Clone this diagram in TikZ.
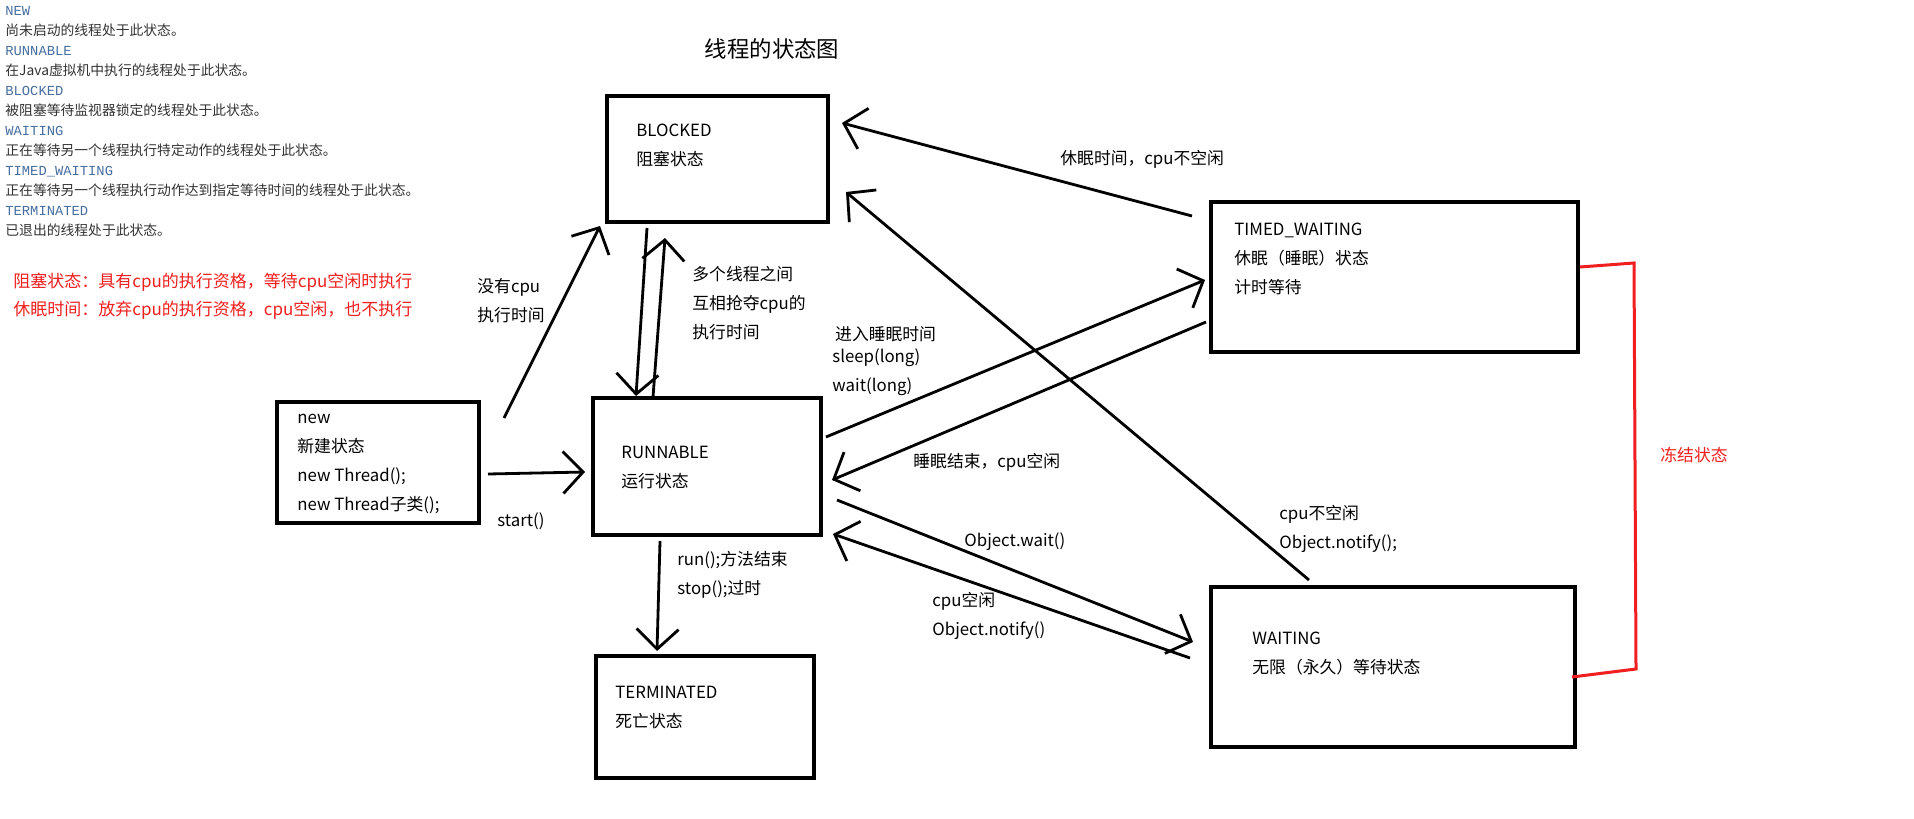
\documentclass[tikz,border=0pt]{standalone}
\usepackage{fontspec}
\setmainfont{Noto Sans CJK SC}
\setmonofont{Liberation Mono}
\usetikzlibrary{calc,arrows.meta}
\definecolor{keyblue}{RGB}{70,110,160}
\definecolor{notegray}{RGB}{50,50,50}
\definecolor{notered}{RGB}{240,30,30}
\begin{document}
\begin{tikzpicture}[x=0.5pt,y=-0.5pt,
    state/.style={draw,line width=2pt,inner sep=0pt,outer sep=0pt},
    txt/.style={anchor=west,align=left,inner sep=0pt,font=\fontsize{8.4}{14.5}\selectfont},
    flow/.style={->,line width=1.4pt},
    >={Straight Barb[length=10pt,width=21pt]}]
      \useasboundingbox (0,0) rectangle (1914,818);
      \node[anchor=west,align=left,inner sep=0pt,font=\fontsize{6.9}{10}\selectfont,text=notegray] (legend) at (5,122)
        {\textcolor{keyblue}{\ttfamily NEW}\\尚未启动的线程处于此状态。\\
         \textcolor{keyblue}{\ttfamily RUNNABLE}\\在Java虚拟机中执行的线程处于此状态。\\
         \textcolor{keyblue}{\ttfamily BLOCKED}\\被阻塞等待监视器锁定的线程处于此状态。\\
         \textcolor{keyblue}{\ttfamily WAITING}\\正在等待另一个线程执行特定动作的线程处于此状态。\\
         \textcolor{keyblue}{\ttfamily TIMED\_WAITING}\\正在等待另一个线程执行动作达到指定等待时间的线程处于此状态。\\
         \textcolor{keyblue}{\ttfamily TERMINATED}\\已退出的线程处于此状态。};
      \node[txt,text=notered,font=\fontsize{8.5}{14}\selectfont] (note) at (13,296)
        {阻塞状态：具有cpu的执行资格，等待cpu空闲时执行\\休眠时间：放弃cpu的执行资格，cpu空闲，也不执行};
      \node[font=\fontsize{11.2}{13}\selectfont,inner sep=0pt] (title) at (772,49) {线程的状态图};

      \node[state,minimum width=110.5pt,minimum height=63pt] (blocked) at (717.5,159) {};
      \node[state,minimum width=101pt,minimum height=60.5pt] (newst) at (378,462.5) {};
      \node[state,minimum width=114pt,minimum height=68.5pt] (runnable) at (707,466.5) {};
      \node[state,minimum width=109pt,minimum height=61pt] (terminated) at (705,717) {};
      \node[state,minimum width=183.5pt,minimum height=75pt] (timed) at (1394.5,277) {};
      \node[state,minimum width=182pt,minimum height=80pt] (waiting) at (1393,667) {};

      \node[txt] (blockedtxt) at (636,145) {BLOCKED\\阻塞状态};
      \node[txt] (newtxt) at (297,464) {new\\新建状态\\new Thread();\\new Thread子类();};
      \node[txt] (runnabletxt) at (621,467.5) {RUNNABLE\\运行状态};
      \node[txt] (terminatedtxt) at (615,707.5) {TERMINATED\\死亡状态};
      \node[txt] (timedtxt) at (1234,258.5) {TIMED\_WAITING\\休眠（睡眠）状态\\计时等待};
      \node[txt] (waitingtxt) at (1252,654) {WAITING\\无限（永久）等待状态};

      \draw[flow] ($(newst.east)+(9,11.5)$) -- ($(runnable.west)+(-8,5.5)$);
      \draw[flow] ($(newst.north east)+(25,16)$) -- ($(blocked.south west)+(-7,4)$);
      \draw[flow] ($(blocked.south west)+(40,6)$) -- ($(runnable.north west)+(43,-2)$);
      \draw[flow] ($(runnable.north west)+(60,-1)$) -- ($(blocked.south west)+(58,16)$);
      \draw[flow] ($(timed.north west)+(-19,14)$) -- ($(blocked.north east)+(14,27)$);
      \draw[flow] ($(waiting.north west)+(98,-7)$) -- ($(blocked.south east)+(18,-30)$);
      \draw[flow] ($(runnable.east)+(5,-29.5)$) -- ($(timed.west)+(-6,3)$);
      \draw[flow] ($(timed.west)+(-5,45)$) -- ($(runnable.east)+(11,13.5)$);
      \draw[flow] ($(runnable.east)+(16,33.5)$) -- ($(waiting.west)+(-18,-25)$);
      \draw[flow] ($(waiting.west)+(-21,-9)$) -- ($(runnable.south east)+(12,-1)$);
      \draw[flow] ($(runnable.south)+(-47,6)$) -- ($(terminated.north)+(-48,-5)$);
      \draw[notered,line width=1.5pt] ($(timed.east)+(2,-10)$) -- (1634,263) -- (1636,669) -- ($(waiting.east)+(-3,10)$);

      \node[txt] (startlbl) at (497,521) {start()};
      \node[txt] (nocpulbl) at (477,301) {没有cpu\\执行时间};
      \node[txt] (racelbl) at (692,303.5) {多个线程之间\\互相抢夺cpu的\\执行时间};
      \node[txt] (sleeplbl) at (832,361.5) {\,进入睡眠时间\\[-3.5pt]sleep(long)\\wait(long)};
      \node[txt] (busylbl) at (1060,159) {休眠时间，cpu不空闲};
      \node[txt] (wakelbl) at (913,462) {睡眠结束，cpu空闲};
      \node[txt] (waitlbl) at (964,542) {Object.wait()};
      \node[txt] (notifylbl) at (932,616) {cpu空闲\\Object.notify()};
      \node[txt] (notifybusylbl) at (1279,529) {cpu不空闲\\Object.notify();};
      \node[txt] (endlbl) at (677,575) {run();方法结束\\stop();过时};
      \node[text=notered,font=\fontsize{8.4}{14.5}\selectfont,inner sep=0pt] (freezelbl) at (1694,455) {冻结状态};
\end{tikzpicture}
\end{document}
